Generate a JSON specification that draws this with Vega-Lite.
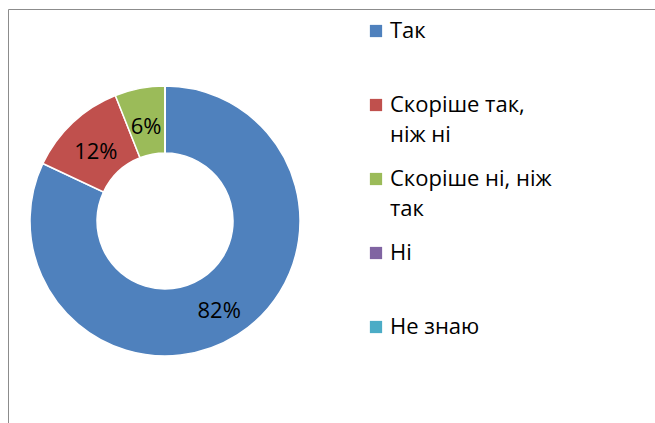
{
  "$schema": "https://vega.github.io/schema/vega-lite/v6.json",
  "width": 655,
  "height": 423,
  "autosize": {"type": "fit", "contains": "padding"},
  "padding": {"left": 8, "top": 9, "right": -10, "bottom": -10},
  "background": "white",
  "view": {"stroke": "#8c8c8c", "strokeWidth": 1},
  "config": {"style": {"guide-label": {"lineHeight": 30}}},
  "data": {
    "values": [
      {"answer": "Так", "share": 0.82, "n": 1},
      {"answer": "Скоріше так, ніж ні", "share": 0.12, "n": 2},
      {"answer": "Скоріше ні, ніж так", "share": 0.06, "n": 3},
      {"answer": "Ні", "share": 0, "n": 4},
      {"answer": "Не знаю", "share": 0, "n": 5}
    ]
  },
  "encoding": {
    "theta": {"field": "share", "type": "quantitative", "stack": true},
    "order": {"field": "n", "type": "ordinal"},
    "x": {"datum": 0.239, "type": "quantitative", "scale": {"domain": [0, 1]}, "axis": null}
  },
  "layer": [
    {
      "mark": {"type": "arc", "innerRadius": 68, "outerRadius": 135, "stroke": "white", "strokeWidth": 1.5},
      "encoding": {
        "color": {
          "field": "answer",
          "type": "nominal",
          "scale": {
            "domain": ["Так", "Скоріше так, ніж ні", "Скоріше ні, ніж так", "Ні", "Не знаю"],
            "range": ["#4F81BD", "#C0504D", "#9BBB59", "#8064A2", "#4BACC6"]
          },
          "legend": {
            "orient": "none",
            "legendX": 357,
            "legendY": 11,
            "title": null,
            "padding": 0,
            "symbolType": "square",
            "symbolSize": 150,
            "symbolStrokeWidth": 0,
            "labelFont": "Open Sans",
            "labelFontSize": 22,
            "labelColor": "black",
            "labelOffset": 3,
            "labelLimit": 300,
            "rowPadding": 22,
            "labelExpr": "datum.label == 'Скоріше так, ніж ні' ? ['Скоріше так,', 'ніж ні'] : datum.label == 'Скоріше ні, ніж так' ? ['Скоріше ні, ніж', 'так'] : [datum.label, '']"
          }
        }
      }
    },
    {
      "transform": [{"filter": "datum.share > 0"}],
      "mark": {"type": "text", "radius": 101, "dy": 5, "font": "Open Sans", "fontSize": 22, "color": "black"},
      "encoding": {
        "text": {"field": "share", "type": "quantitative", "format": ".0%"}
      }
    }
  ]
}
